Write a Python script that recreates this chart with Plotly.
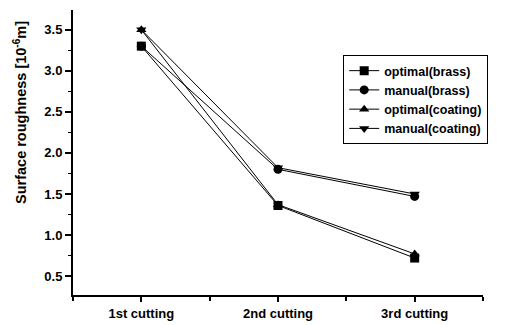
import plotly.graph_objects as go

categories = ["1st cutting", "2nd cutting", "3rd cutting"]
series_names = ["optimal(brass)", "manual(brass)", "optimal(coating)", "manual(coating)"]
optimal_brass = [3.30, 1.36, 0.72]
manual_brass = [3.30, 1.80, 1.47]
optimal_coating = [3.50, 1.37, 0.77]
manual_coating = [3.50, 1.82, 1.50]
y_ticks = [0.5, 1.0, 1.5, 2.0, 2.5, 3.0, 3.5]

symbols = ["square", "circle", "triangle-up", "triangle-down"]
all_values = [optimal_brass, manual_brass, optimal_coating, manual_coating]

fig = go.Figure()
xpos = list(range(len(categories)))
for name, vals, sym in zip(series_names, all_values, symbols):
    fig.add_trace(go.Scatter(
        x=xpos, y=vals, name=name, mode="lines+markers",
        line=dict(color="black", width=1),
        marker=dict(symbol=sym, size=9, color="black"),
    ))

font_family = "Liberation Sans, Arial, sans-serif"
# page body has an 8px default margin; figure sized so plot area lands where the reference has it
fig.update_layout(
    width=504, height=317,
    margin=dict(l=65, r=29, t=2, b=30),
    paper_bgcolor="white", plot_bgcolor="white",
    font=dict(family=font_family, color="black", size=13),
    showlegend=True,
    legend=dict(
        x=0.659, y=0.842, xanchor="left", yanchor="top",
        bordercolor="black", borderwidth=1, bgcolor="white",
        font=dict(size=12.5, family=font_family, weight="bold"),
        tracegroupgap=0, itemwidth=30,
    ),
    xaxis=dict(
        range=[-0.5, 2.5], tickmode="array", tickvals=xpos, ticktext=categories,
        showline=True, linecolor="black", linewidth=2, ticks="outside",
        tickcolor="black", ticklen=5, tickwidth=1.5, showgrid=False, zeroline=False,
        tickfont=dict(size=13, family=font_family, weight="bold"),
        automargin=False,
        minor=dict(tickmode="array", tickvals=[-0.5, 0.5, 1.5, 2.5], ticks="outside",
                   ticklen=4, tickcolor="black", tickwidth=1.5),
    ),
    yaxis=dict(
        range=[0.27, 3.74], tickmode="array", tickvals=y_ticks,
        ticktext=[f"{v:.1f}" for v in y_ticks],
        showline=True, linecolor="black", linewidth=2, ticks="outside",
        tickcolor="black", ticklen=6, tickwidth=1.5, showgrid=False, zeroline=False,
        tickfont=dict(size=13, family=font_family, weight="bold"),
        automargin=False,
        minor=dict(tickmode="array", tickvals=[0.75, 1.25, 1.75, 2.25, 2.75, 3.25, 3.75],
                   ticks="outside", ticklen=3, tickcolor="black", tickwidth=1),
    ),
    annotations=[dict(
        text="Surface roughness [10<sup>-6</sup>m]", textangle=-90,
        xref="paper", yref="paper", x=-0.129, y=0.639,
        xanchor="center", yanchor="middle", showarrow=False,
        font=dict(size=14.5, family=font_family, weight="bold"),
    )],
)

fig.write_html("out.html")
